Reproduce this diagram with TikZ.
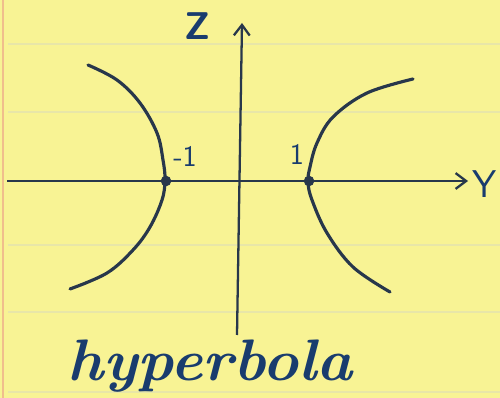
\documentclass[tikz,border=0pt]{standalone}
\usepackage{graphicx}
\usetikzlibrary{arrows.meta}
\definecolor{paper}{RGB}{248,243,148}
\definecolor{rule}{RGB}{232,230,168}
\definecolor{margin}{RGB}{240,190,140}
\definecolor{ink}{RGB}{40,55,75}
\definecolor{pen}{RGB}{25,60,110}
\tikzset{
  axis/.style={draw=ink, line width=1.3pt},
  curve/.style={draw=ink, line width=1.8pt, line cap=round},
  lbl/.style={text=pen, inner sep=0pt, font=\itshape},
  vtx/.style={circle, fill=ink, inner sep=0pt, minimum size=6pt}
}
\begin{document}
\begin{tikzpicture}[x=0.02cm, y=-0.02cm]
\fill[paper] (0,0) rectangle (500,398);
\useasboundingbox (0,0) rectangle (500,398);
\foreach \yy in {44,112,245,312,392}{
  \draw[rule, line width=0.8pt] (8,\yy) -- (500,\yy);
}
\draw[margin, line width=1pt] (3,0) -- (3,398);
% axes
\coordinate (xl) at (7,181);
\coordinate (xr) at (468,181);
\coordinate (zb) at (237,335);
\coordinate (zt) at (242,23);
\draw[axis, -{Straight Barb[length=6pt,width=9pt]}] (xl) -- (xr);
\draw[axis, -{Straight Barb[length=6pt,width=9pt]}] (zb) -- (zt);
% branches
\draw[curve] plot[smooth, tension=0.6] coordinates {(88,65) (117,80) (140,103) (157,133) (163,160) (165,180) (162,200) (150,227) (133,250) (107,273) (70,289)};
\draw[curve] plot[smooth, tension=0.6] coordinates {(413,79) (367,93) (333,117) (317,143) (310,167) (308,182) (312,200) (327,233) (353,267) (390,292)};
\node[vtx] (vl) at (166,181) {};
\node[vtx] (vr) at (309,181) {};
% labels
\node[lbl, font=\sffamily\bfseries\fontsize{22}{24}\selectfont] (zl) at (197,26) {Z};
\node[lbl, font=\sffamily\fontsize{22}{24}\selectfont] (yl) at (485,184) {Y};
\node[lbl, font=\sffamily\fontsize{17}{20}\selectfont] (m1) at (185,156) {-1};
\node[lbl, font=\sffamily\fontsize{17}{20}\selectfont] (p1) at (297,154) {1};
\node[lbl, anchor=center] (hy) at (210,366) {\resizebox*{5.7cm}{1.05cm}{\itshape\bfseries hyperbola}};
\end{tikzpicture}
\end{document}
